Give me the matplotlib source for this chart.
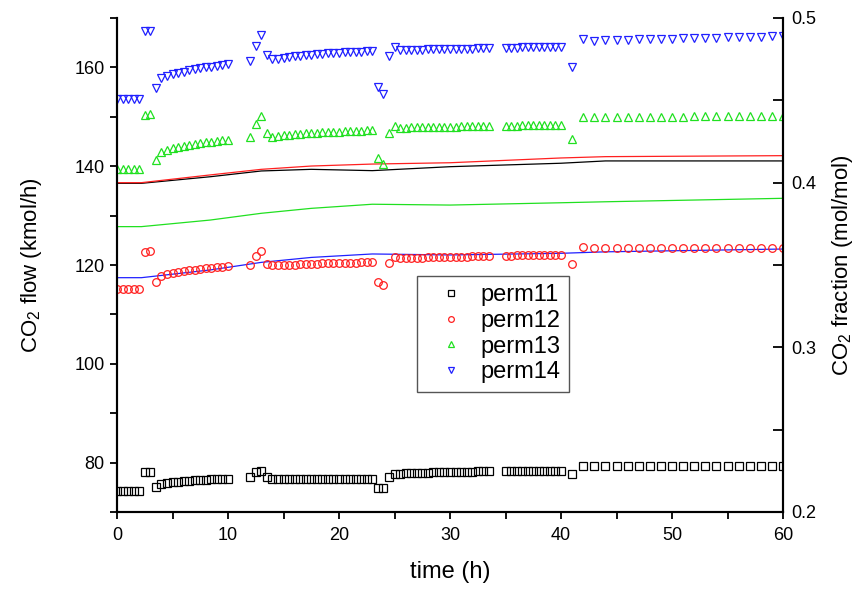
import matplotlib
matplotlib.use("Agg")
import matplotlib.pyplot as plt
from matplotlib.ticker import MultipleLocator

plt.rcParams['font.family'] = ['Liberation Sans', 'DejaVu Sans']
plt.rcParams['mathtext.fontset'] = 'custom'
plt.rcParams['mathtext.rm'] = 'Liberation Sans'

# sample times (h) of the measured CO2 flows
time = [0, 0.5, 1, 1.5, 2,
        2.5, 3, 3.5,
        4, 4.5, 5, 5.5, 6, 6.5, 7, 7.5, 8, 8.5, 9, 9.5, 10,
        12, 12.5, 13, 13.5,
        14, 14.5, 15, 15.5, 16, 16.5, 17, 17.5, 18, 18.5, 19, 19.5, 20, 20.5,
        21, 21.5, 22, 22.5, 23,
        23.5, 24, 24.5, 25,
        25.5, 26, 26.5, 27, 27.5, 28, 28.5, 29, 29.5, 30, 30.5, 31, 31.5, 32,
        32.5, 33, 33.5,
        35, 35.5, 36, 36.5, 37, 37.5, 38, 38.5, 39, 39.5, 40,
        41,
        42, 43, 44, 45, 46, 47, 48, 49, 50, 51, 52, 53, 54, 55, 56, 57, 58, 59, 60]

perm11 = [74.3, 74.3, 74.3, 74.3, 74.3,
          78.0, 78.1, 75.1,
          75.7, 75.9, 76.0, 76.1, 76.2, 76.3, 76.4, 76.4, 76.5, 76.6, 76.6, 76.7, 76.7,
          77.0, 78.0, 78.4, 77.0,
          76.7, 76.7, 76.7, 76.7, 76.7, 76.7, 76.7, 76.7, 76.7, 76.7, 76.7, 76.7, 76.7,
          76.7, 76.7, 76.7, 76.7, 76.7, 76.7,
          74.9, 74.8, 77.1, 77.6,
          77.7, 77.8, 77.8, 77.9, 77.9, 77.9, 78.0, 78.0, 78.0, 78.0, 78.1, 78.1, 78.1,
          78.1, 78.2, 78.2, 78.2,
          78.3, 78.3, 78.3, 78.4, 78.4, 78.4, 78.4, 78.4, 78.4, 78.4, 78.4,
          77.7,
          79.3, 79.3, 79.3, 79.3, 79.3, 79.3, 79.3, 79.3, 79.3, 79.3, 79.3, 79.3, 79.3,
          79.3, 79.3, 79.3, 79.3, 79.3, 79.3]

perm12 = [115.1, 115.1, 115.1, 115.1, 115.1,
          122.7, 122.9, 116.6,
          117.8, 118.1, 118.3, 118.5, 118.7, 118.9, 119.0, 119.1, 119.3, 119.4, 119.5,
          119.6, 119.7,
          120.0, 121.8, 122.9, 120.3,
          119.9, 120.0, 120.0, 120.1, 120.1, 120.2, 120.2, 120.3, 120.3, 120.4, 120.4,
          120.4, 120.5, 120.5, 120.5, 120.5, 120.6, 120.6, 120.6,
          116.6, 116.0, 120.5, 121.6,
          121.4, 121.4, 121.5, 121.5, 121.5, 121.6, 121.6, 121.6, 121.6, 121.7, 121.7,
          121.7, 121.7, 121.8, 121.8, 121.8, 121.8,
          121.9, 121.9, 122.0, 122.0, 122.0, 122.0, 122.0, 122.1, 122.1, 122.1, 122.1,
          120.3,
          123.6, 123.4, 123.4, 123.4, 123.4, 123.4, 123.4, 123.4, 123.5, 123.5, 123.5,
          123.5, 123.5, 123.5, 123.5, 123.5, 123.5, 123.5, 123.5]

perm13 = [139.4, 139.4, 139.4, 139.4, 139.4,
          150.4, 150.5, 141.3,
          142.9, 143.3, 143.6, 143.8, 144.1, 144.3, 144.5, 144.7, 144.9, 145.0, 145.2,
          145.3, 145.4,
          146.0, 148.5, 150.2, 146.8,
          146.0, 146.2, 146.3, 146.4, 146.5, 146.6, 146.7, 146.7, 146.8, 146.9, 146.9,
          147.0, 147.0, 147.1, 147.1, 147.2, 147.2, 147.3, 147.3,
          141.6, 140.4, 146.7, 148.1,
          147.8, 147.8, 147.9, 147.9, 147.9, 147.9, 148.0, 148.0, 148.0, 148.0, 148.0,
          148.1, 148.1, 148.1, 148.1, 148.1, 148.1,
          148.2, 148.2, 148.2, 148.3, 148.3, 148.3, 148.3, 148.3, 148.4, 148.4, 148.4,
          145.6,
          150.0, 149.9, 149.9, 149.9, 149.9, 150.0, 150.0, 150.0, 150.0, 150.0, 150.1,
          150.1, 150.1, 150.1, 150.1, 150.2, 150.2, 150.2, 150.2]

perm14 = [153.7, 153.7, 153.7, 153.7, 153.7,
          167.4, 167.4, 155.8,
          157.9, 158.3, 158.6, 158.9, 159.1, 159.4, 159.6, 159.8, 160.0, 160.1, 160.3,
          160.5, 160.6,
          161.2, 164.3, 166.6, 162.5,
          161.6, 161.8, 162.0, 162.2, 162.3, 162.4, 162.5, 162.6, 162.7, 162.8, 162.9,
          163.0, 163.0, 163.1, 163.1, 163.2, 163.2, 163.3, 163.3,
          156.1, 154.6, 162.3, 164.2,
          163.5, 163.5, 163.6, 163.6, 163.6, 163.7, 163.7, 163.7, 163.7, 163.8, 163.8,
          163.8, 163.8, 163.8, 163.9, 163.9, 163.9,
          164.0, 164.0, 164.0, 164.1, 164.1, 164.1, 164.1, 164.1, 164.2, 164.2, 164.2,
          160.1,
          165.7, 165.4, 165.5, 165.6, 165.6, 165.7, 165.7, 165.8, 165.8, 165.9, 165.9,
          166.0, 166.0, 166.1, 166.1, 166.2, 166.2, 166.3, 166.4]

# CO2 fraction (right axis), read at a few times
frac_time = [0, 2.2, 8.4, 13, 17.5, 23, 30, 40, 44, 60]
frac11 = [0.3996, 0.3996, 0.4036, 0.4071, 0.4081, 0.4073, 0.4097, 0.4118, 0.4132, 0.4132]
frac12 = [0.4000, 0.4000, 0.4047, 0.4081, 0.4101, 0.4113, 0.4121, 0.4150, 0.4158, 0.4164]
frac13 = [0.3733, 0.3733, 0.3773, 0.3814, 0.3844, 0.3869, 0.3864, 0.3878, 0.3884, 0.3905]
frac14 = [0.3423, 0.3423, 0.3470, 0.3516, 0.3546, 0.3567, 0.3561, 0.3571, 0.3580, 0.3597]

names = ['perm11', 'perm12', 'perm13', 'perm14']
colors = ['black', '#ff2020', '#20e020', '#2020ff']
markers = ['s', 'o', '^', 'v']

fig = plt.figure(figsize=(8.56, 5.95), dpi=100)
ax = fig.add_axes([117/856, 1 - 512/595, 666/856, 494/595])
ax2 = ax.twinx()

for vals, fr, name, c, m in zip([perm11, perm12, perm13, perm14],
                                [frac11, frac12, frac13, frac14],
                                names, colors, markers):
    ax2.plot(frac_time, fr, color=c, lw=0.9)
    ax.plot(time, vals, linestyle='none', marker=m, ms=5.5, mfc='none',
            mec=c, mew=0.9, label=name)

ax.set_zorder(ax2.get_zorder() + 1)
ax.patch.set_visible(False)

ax.set_xlim(0, 60)
ax.set_ylim(70, 170)
ax2.set_ylim(0.2, 0.5)

ax.xaxis.set_major_locator(MultipleLocator(10))
ax.xaxis.set_minor_locator(MultipleLocator(5))
ax.yaxis.set_major_locator(MultipleLocator(20))
ax.yaxis.set_minor_locator(MultipleLocator(10))
ax2.yaxis.set_major_locator(MultipleLocator(0.1))
ax2.yaxis.set_minor_locator(MultipleLocator(0.05))
ax.set_yticks([80, 100, 120, 140, 160])

ax.tick_params(axis='both', which='both', direction='out', length=5, width=1.3,
               labelsize=13, top=False, pad=4)
ax.tick_params(axis='x', which='major', pad=6)
ax2.tick_params(axis='y', which='both', direction='in', length=7, width=1.3,
                labelsize=13, pad=6)

for a in (ax, ax2):
    a.spines['top'].set_visible(False)
    for s in ('left', 'bottom', 'right'):
        a.spines[s].set_linewidth(1.5)

ax.set_xlabel('time (h)', fontsize=17, labelpad=12)
ax.set_ylabel('CO$_2$ flow (kmol/h)', fontsize=16, labelpad=22)
ax2.set_ylabel('CO$_2$ fraction (mol/mol)', fontsize=16, labelpad=10)

leg = ax.legend(loc='upper left', bbox_to_anchor=(0.4505, 0.478), borderaxespad=0,
                fontsize=17, fancybox=False, edgecolor='#555555', framealpha=1,
                markerscale=0.75, handlelength=2.2, labelspacing=0.16,
                borderpad=0.35, handletextpad=0.15)
leg.get_frame().set_linewidth(1.0)

fig.savefig('out.png', dpi=100)
